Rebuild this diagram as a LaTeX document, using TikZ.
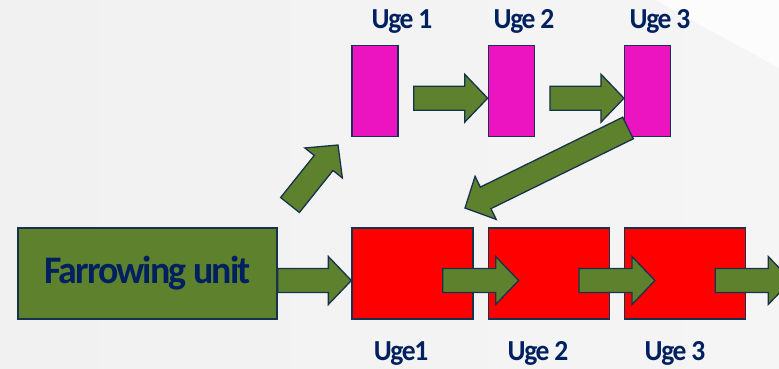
\documentclass[tikz,border=0pt]{standalone}
\usepackage{fontspec}
\setmainfont{Carlito}
\usepackage{graphicx}
\usetikzlibrary{calc}
\usetikzlibrary{positioning}

\definecolor{flowgreen}{HTML}{5E812E}
\definecolor{edgenavy}{HTML}{17324C}
\definecolor{ugepink}{HTML}{EC14C0}
\definecolor{ugered}{HTML}{FF0000}
\definecolor{labelnavy}{HTML}{002060}
\definecolor{bgleft}{HTML}{F1F1F1}
\definecolor{bgright}{HTML}{F5F5F5}

\newcommand{\tightbold}[3]{\bfseries\fontsize{#1}{#1}\selectfont\addfontfeature{LetterSpace=-5}\scalebox{#2}[1]{#3}}

\tikzset{
  box/.style={draw=edgenavy, line width=1.3pt, minimum height=91pt, inner sep=0pt},
  flow/.style={draw=edgenavy, fill=flowgreen, line width=1.3pt, line join=miter},
  ugelabel/.style={text=labelnavy, inner sep=0pt, anchor=base}
}

% block arrow from tail #1 to tip #2
\newcommand{\flowarrow}[2]{%
  \path ($(#2)!23pt!(#1)$) coordinate (hb);
  \draw[flow] ($(#1)!12pt!90:(#2)$) -- ($(hb)!12pt!90:(#2)$) -- ($(hb)!24pt!90:(#2)$)
    -- (#2) -- ($(hb)!24pt!-90:(#2)$) -- ($(hb)!12pt!-90:(#2)$) -- ($(#1)!12pt!-90:(#2)$) -- cycle;
}

\begin{document}
\begin{tikzpicture}[x=1pt,y=-1pt]
\fill[left color=bgleft, right color=bgright] (0,0) rectangle (779,368);
\fill[white!70!bgright] (655,0) -- (779,0) -- (779,68) -- cycle;
\useasboundingbox (0,0) rectangle (779,368);

% lower row
\node[box, fill=flowgreen, minimum width=259pt] (farrow) at (147.5,273.5)
  {\textcolor{labelnavy}{\tightbold{39}{0.97}{Farrowing unit}}};
\node[box, fill=ugered, minimum width=121pt] (red1) at (412.5,273.5) {};
\node[box, fill=ugered, minimum width=121pt, right=14pt of red1] (red2) {};
\node[box, fill=ugered, minimum width=121pt, right=14pt of red2] (red3) {};

% upper row
\foreach \i in {1,2,3} {
  \node[box, fill=ugepink, minimum width=46pt, anchor=south west] (pink\i) at ([yshift=90pt]red\i.north west) {};
}

% labels
\node[ugelabel] (top1) at (402,28) {\tightbold{29}{0.95}{Uge 1}};
\node[ugelabel] (top2) at (524,28) {\tightbold{29}{0.95}{Uge 2}};
\node[ugelabel] (top3) at (660,28) {\tightbold{29}{0.95}{Uge 3}};
\node[ugelabel] (bot1) at (401,360) {\tightbold{29}{0.95}{Uge1}};
\node[ugelabel] (bot2) at (538,360) {\tightbold{29}{0.95}{Uge 2}};
\node[ugelabel] (bot3) at (675,360) {\tightbold{29}{0.95}{Uge 3}};

% arrow ends
\coordinate (f-tail) at ([yshift=-7pt]farrow.east);
\coordinate (f-tip) at ([yshift=-7pt]red1.west);
\coordinate (g1) at ($([yshift=-7pt]red1.east)!0.5!([yshift=-7pt]red2.west)$);
\coordinate (g2) at ($([yshift=-7pt]red2.east)!0.5!([yshift=-7pt]red3.west)$);
\coordinate (g3) at ([xshift=7pt,yshift=-7pt]red3.east);
\coordinate (p1-tail) at ([xshift=15pt,yshift=-7pt]pink1.east);
\coordinate (p1-tip) at ([yshift=-7pt]pink2.west);
\coordinate (p2-tail) at ([xshift=15pt,yshift=-7pt]pink2.east);
\coordinate (p2-tip) at ([yshift=-7pt]pink3.west);
\coordinate (up-tail) at (290,205);
\coordinate (up-tip) at (338,145);
\coordinate (down-tail) at (628,128);
\coordinate (down-tip) at (465,208);

% arrows
\flowarrow{f-tail}{f-tip}
\foreach \g in {g1,g2,g3} {
  \coordinate (a-tail) at ([xshift=-38pt]\g);
  \coordinate (a-tip) at ([xshift=38pt]\g);
  \flowarrow{a-tail}{a-tip}
}
\flowarrow{p1-tail}{p1-tip}
\flowarrow{p2-tail}{p2-tip}
\flowarrow{up-tail}{up-tip}
\flowarrow{down-tail}{down-tip}
\end{tikzpicture}
\end{document}
